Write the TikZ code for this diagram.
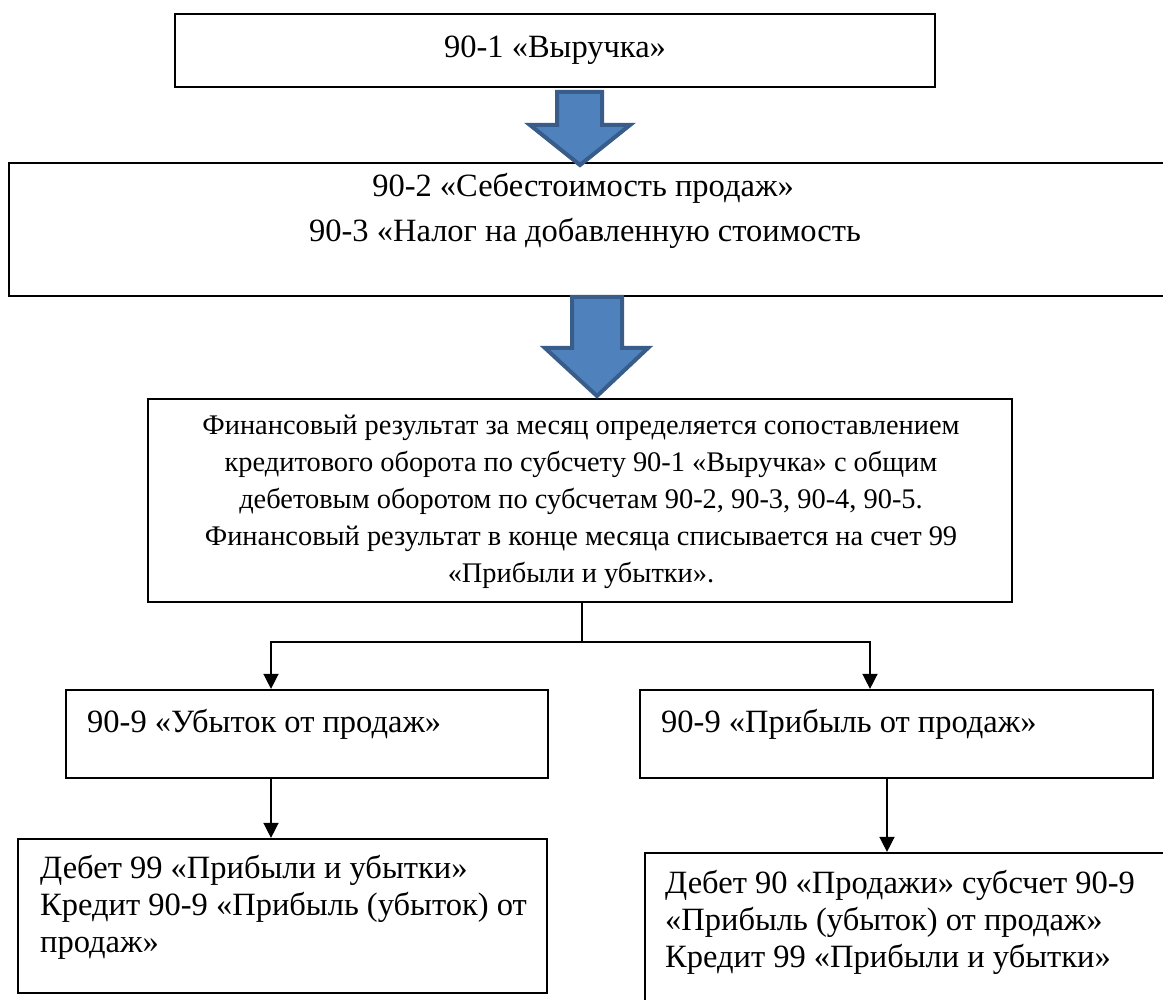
\documentclass[tikz,border=0pt]{standalone}
\usepackage{fontspec}
\setmainfont{Liberation Serif}
\usetikzlibrary{arrows.meta}
\definecolor{arrfill}{HTML}{4F81BD}
\definecolor{arrline}{HTML}{385D8A}
\tikzset{
  boxnode/.style={draw=black, line width=2.2pt, rectangle, inner sep=0pt},
  txt/.style={inner sep=0pt, font=\fontsize{32.5}{37}\selectfont},
  txtl/.style={txt, anchor=base west},
  conn/.style={draw=black, line width=1.5pt},
  carrow/.style={conn, -{Triangle[length=15pt,width=15pt]}},
  blockarrow/.style={fill=arrfill, draw=arrline, line width=4pt, line join=miter}
}
\begin{document}
\begin{tikzpicture}[x=1pt,y=-1pt]
\useasboundingbox (0,0) rectangle (1163,1000);
\clip (0,0) rectangle (1163,1000);
\fill[white] (0,0) rectangle (1163,1000);
% boxes
\node[boxnode, minimum width=760pt, minimum height=73pt] (b1) at (555,50.5) {};
\node[boxnode, minimum width=1171pt, minimum height=133pt] (b2) at (594.5,229.5) {};
\node[boxnode, minimum width=864pt, minimum height=203pt] (b3) at (580,500.5) {};
\node[boxnode, minimum width=482pt, minimum height=88pt] (b4) at (307,734) {};
\node[boxnode, minimum width=513pt, minimum height=88pt] (b5) at (896.5,734) {};
\node[boxnode, minimum width=529pt, minimum height=154pt] (b6) at (282.5,916) {};
\node[boxnode, minimum width=535pt, minimum height=200pt] (b7) at (912.5,953) {};
% texts
\node[txt] (t1) at (555,50) {90-1 «Выручка»};
\node[txt] (t2a) at (583,188) {90-2 «Себестоимость продаж»};
\node[txt] (t2b) at (585,233) {90-3 «Налог на добавленную стоимость};
\node[txt, align=center, font=\fontsize{28.4}{37}\selectfont] (t3) at (581,502) {Финансовый результат за месяц определяется сопоставлением\\кредитового оборота по субсчету 90-1 «Выручка» с общим\\дебетовым оборотом по субсчетам 90-2, 90-3, 90-4, 90-5.\\Финансовый результат в конце месяца списывается на счет 99\\«Прибыли и убытки».};
\node[txtl] (t4) at (87,732) {90-9 «Убыток от продаж»};
\node[txtl] (t5) at (661,732) {90-9 «Прибыль от продаж»};
\node[txtl] (t6a) at (40,878) {Дебет 99 «Прибыли и убытки»};
\node[txtl] (t6b) at (40,915) {Кредит 90-9 «Прибыль (убыток) от};
\node[txtl] (t6c) at (40,952) {продаж»};
\node[txtl] (t7a) at (665,893) {Дебет 90 «Продажи» субсчет 90-9};
\node[txtl] (t7b) at (665,930) {«Прибыль (убыток) от продаж»};
\node[txtl] (t7c) at (665,967) {Кредит 99 «Прибыли и убытки»};
% block arrows
\draw[blockarrow] (557,92) -- (602,92) -- (602,125) -- (630,125) -- (580,165) -- (530,125) -- (557,125) -- cycle;
\draw[blockarrow] (572,297) -- (622,297) -- (622,348) -- (648,348) -- (597,396) -- (545,348) -- (572,348) -- cycle;
% connectors
\coordinate (j) at (582,642);
\coordinate (jl) at (271,642);
\coordinate (jr) at (870,642);
\draw[conn] (b3.south -| j) -- (j);
\draw[carrow] (j) -- (jl) -- (b4.north -| jl);
\draw[carrow] (j) -- (jr) -- (b5.north -| jr);
\draw[carrow] (b4.south -| jl) -- (b6.north -| jl);
\coordinate (k) at (887,778);
\draw[carrow] (b5.south -| k) -- (b7.north -| k);
\end{tikzpicture}
\end{document}
